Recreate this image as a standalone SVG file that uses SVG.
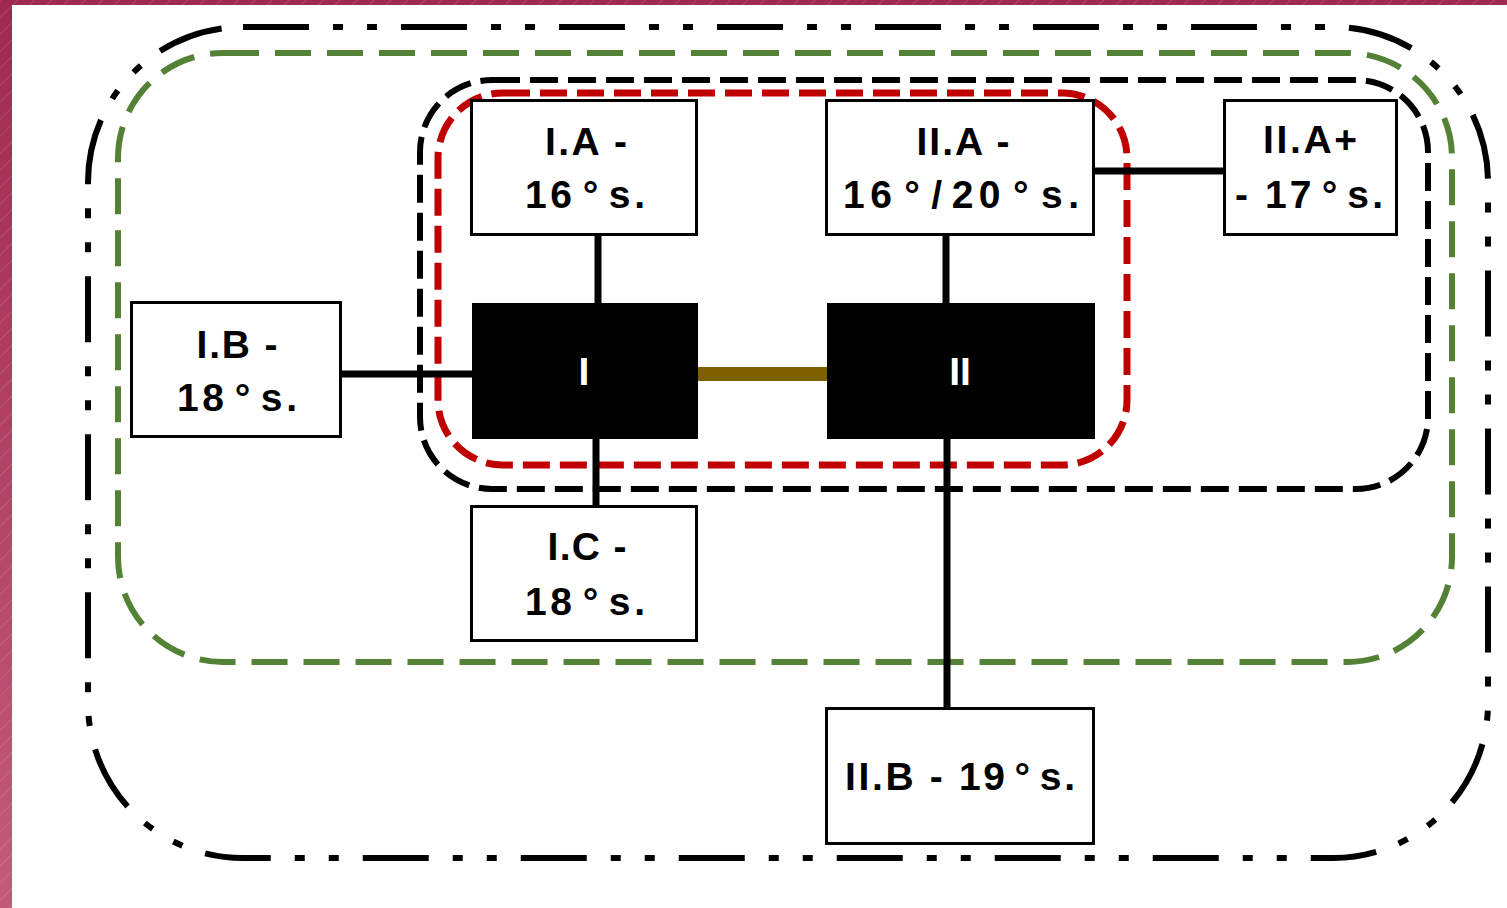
<svg xmlns="http://www.w3.org/2000/svg" width="1507" height="908" viewBox="0 0 1507 908">
<defs>
<linearGradient id="bg" x1="0" y1="0" x2="0" y2="1">
<stop offset="0" stop-color="#a02a4f"/>
<stop offset="1" stop-color="#c45a7a"/>
</linearGradient>
<pattern id="stripes" width="12" height="12" patternUnits="userSpaceOnUse" patternTransform="rotate(45)">
<line x1="0" y1="0" x2="0" y2="12" stroke="#ffffff" stroke-opacity="0.25" stroke-width="1"/>
</pattern>
<style>
.box{fill:#ffffff;stroke:#000000;stroke-width:3}
.blk{fill:#000000}
.t{font-family:"Liberation Sans",Arial,sans-serif;font-size:39px;font-weight:bold;fill:#000000;text-anchor:middle}
.tw{font-family:"Liberation Sans",Arial,sans-serif;font-size:39px;font-weight:bold;fill:#ffffff;text-anchor:middle}
.c{stroke:#000000;stroke-width:7;fill:none}
</style>
</defs>
<rect x="0" y="0" width="1507" height="908" fill="url(#bg)"/>
<rect x="0" y="0" width="1507" height="908" fill="url(#stripes)"/>
<rect x="12" y="5" width="1495" height="903" fill="#ffffff"/>
<g id="containers" fill="none">
<rect id="outer" x="88" y="27" width="1400" height="831" rx="155" ry="155" stroke="#000000" stroke-width="6" stroke-dasharray="66 24 10 24 10 24"/>
<rect id="green" x="118" y="53" width="1334" height="609" rx="105" ry="105" stroke="#538135" stroke-width="6" stroke-dasharray="36 16"/>
<rect id="inner" x="420" y="80" width="1008" height="409" rx="72" ry="72" stroke="#000000" stroke-width="6" stroke-dasharray="28 10"/>
<rect id="red" x="438" y="93" width="689" height="372" rx="65" ry="65" stroke="#c00000" stroke-width="7" stroke-dasharray="27 10"/>
</g>
<g id="connectors">
<line class="c" x1="598" y1="235" x2="598" y2="303"/>
<line class="c" x1="596" y1="438" x2="596" y2="506"/>
<line class="c" x1="341" y1="374" x2="472" y2="374"/>
<line x1="697" y1="374" x2="827" y2="374" stroke="#7f6000" stroke-width="14"/>
<line class="c" x1="946" y1="235" x2="946" y2="303"/>
<line class="c" x1="947" y1="438" x2="947" y2="708"/>
<line class="c" x1="1094" y1="171" x2="1224" y2="171"/>
</g>
<g id="node-IA">
<rect class="box" x="471.5" y="100.5" width="225" height="134"/>
<text class="t" x="586" y="155" textLength="82" lengthAdjust="spacing">I.A -</text>
<text class="t" x="585" y="208" textLength="120" lengthAdjust="spacing">16<tspan dx="7">°</tspan><tspan dx="7">s.</tspan></text>
</g>
<g id="node-IIA">
<rect class="box" x="826.5" y="100.5" width="267" height="134"/>
<text class="t" x="963" y="155" textLength="93" lengthAdjust="spacing">II.A -</text>
<text class="t" x="961" y="208" textLength="236" lengthAdjust="spacing">16<tspan dx="7">°</tspan><tspan dx="6">/</tspan><tspan dx="4">20</tspan><tspan dx="7">°</tspan><tspan dx="7">s.</tspan></text>
</g>
<g id="node-IIAplus">
<rect class="box" x="1224.5" y="100.5" width="172" height="134"/>
<text class="t" x="1310" y="153" textLength="94" lengthAdjust="spacing">II.A+</text>
<text class="t" x="1309" y="208" textLength="148" lengthAdjust="spacing">- 17<tspan dx="7">°</tspan><tspan dx="7">s.</tspan></text>
</g>
<g id="node-IB">
<rect class="box" x="131.5" y="302.5" width="209" height="134"/>
<text class="t" x="237" y="358" textLength="81" lengthAdjust="spacing">I.B -</text>
<text class="t" x="237" y="411" textLength="120" lengthAdjust="spacing">18<tspan dx="7">°</tspan><tspan dx="7">s.</tspan></text>
</g>
<g id="node-IC">
<rect class="box" x="471.5" y="506.5" width="225" height="134"/>
<text class="t" x="587" y="560" textLength="79" lengthAdjust="spacing">I.C -</text>
<text class="t" x="585" y="615" textLength="120" lengthAdjust="spacing">18<tspan dx="7">°</tspan><tspan dx="7">s.</tspan></text>
</g>
<g id="node-IIB">
<rect class="box" x="826.5" y="708.5" width="267" height="135"/>
<text class="t" x="960" y="790" textLength="230" lengthAdjust="spacing">II.B - 19<tspan dx="7">°</tspan><tspan dx="7">s.</tspan></text>
</g>
<g id="node-I">
<rect class="blk" x="472" y="303" width="226" height="136"/>
<text class="tw" x="584" y="385">I</text>
</g>
<g id="node-II">
<rect class="blk" x="827" y="303" width="268" height="136"/>
<text class="tw" x="960" y="385">II</text>
</g>
</svg>
